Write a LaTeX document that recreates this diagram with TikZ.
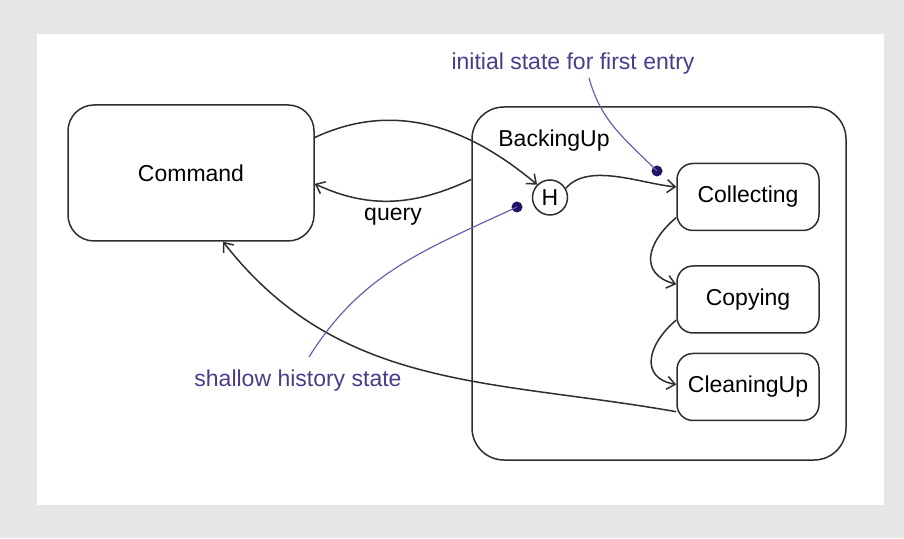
\documentclass[tikz,border=0pt]{standalone}
\usepackage{fontspec}
\setmainfont{Liberation Sans}
\usetikzlibrary{arrows.meta}
\definecolor{bggray}{HTML}{E6E6E6}
\definecolor{ink}{HTML}{2E2E2E}
\definecolor{notetext}{HTML}{4B3C8C}
\definecolor{noteline}{HTML}{6A60B0}
\definecolor{notedot}{HTML}{1E1464}
\begin{document}
\begin{tikzpicture}[x=1pt,y=1pt,
    font=\fontsize{23}{27}\selectfont,
    state/.style={draw=ink, line width=1.5pt, rounded corners=16pt, minimum width=142pt, minimum height=67pt},
    trans/.style={draw=ink, line width=1.5pt, -{Straight Barb[length=8pt,width=13pt]}},
    note/.style={text=notetext},
    noteline/.style={draw=noteline, line width=1.2pt},
    notedot/.style={circle, fill=notedot, inner sep=0pt, minimum size=11pt}]
            \fill[bggray] (0,0) rectangle (904,538);
            \fill[white] (37,33) rectangle (884,504);
            \draw (191,365) node[state, rounded corners=26pt, minimum width=246pt, minimum height=136pt] (cmd) {Command};
            \draw (659,254.5) node[state, rounded corners=32pt, minimum width=374pt, minimum height=353pt] (bk) {};
            \draw (554,397) node (bklabel) {BackingUp};
            \draw (550,340.5) node[circle, draw=ink, line width=1.5pt, minimum size=35pt, inner sep=0pt] (h) {H};
            \draw (748,341) node[state] (coll) {Collecting};
            \draw (748,238.5) node[state] (copy) {Copying};
            \draw (748,151) node[state] (clean) {CleaningUp};
            \draw (393,321) node (query) {query};
            \draw (573,474.5) node[note] (initlabel) {initial state for first entry};
            \draw (298,157) node[note] (shlabel) {shallow history state};
            \draw (657,367) node[notedot] (initdot) {};
            \draw (517,331) node[notedot] (histdot) {};
            \coordinate (shfoot) at (309,181);
            \draw[trans] (cmd.16) to[out=25,in=140] (h.135);
            \draw[trans] (bk.151) to[out=205,in=-25] (cmd.-5);
            \draw[trans] (h.30) to[out=50,in=175,looseness=0.8] (coll.172);
            \draw[trans] (coll.196) to[out=220,in=165,looseness=1.5] (copy.168);
            \draw[trans] (copy.196) to[out=220,in=170,looseness=1.5] (clean.178);
            \draw[trans] (clean.199) to[out=170,in=-52] (cmd.-65);
            \draw[noteline] ([xshift=16pt]initlabel.south) to[out=-75,in=135] (initdot.center);
            \draw[noteline] (shfoot) to[out=58,in=205] (histdot.center);
        \end{tikzpicture}
\end{document}
